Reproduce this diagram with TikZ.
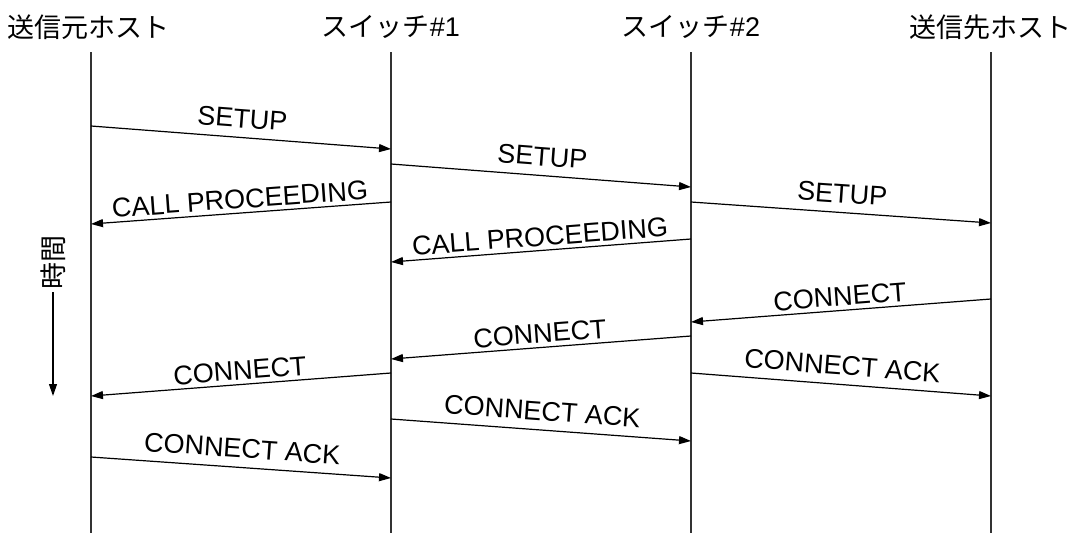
\documentclass[tikz,border=0pt]{standalone}
\usepackage{fontspec}
\setmainfont{Liberation Sans}
\newfontfamily\jp{Noto Sans CJK JP}
\usetikzlibrary{arrows.meta}
\begin{document}
\begin{tikzpicture}[x=1pt,y=-1pt,
  life/.style={draw=black!80, line width=1.6pt},
  msg/.style={draw=black, line width=1.2pt, -{Triangle[length=12pt,width=8pt]}},
  hdr/.style={font=\fontsize{27}{31}\selectfont, inner sep=0pt},
  lbl/.style={font=\fontsize{27}{31}\selectfont, sloped, midway, anchor=south, inner xsep=0pt, text depth=0pt},
  lblr/.style={lbl, inner ysep=9pt},
  lbll/.style={lbl, inner ysep=4pt}]
\useasboundingbox (0,0) rectangle (1071,533);

% headers
\node[hdr] (h1) at (89,27) {\jp 送信元ホスト};
\node[hdr] (h2) at (391,27) {{\jp スイッチ}\#1};
\node[hdr] (h3) at (691,27) {{\jp スイッチ}\#2};
\node[hdr] (h4) at (990,27) {\jp 送信先ホスト};

% lifelines
\foreach \i/\x in {1/91,2/391,3/691,4/991}{
  \coordinate (t\i) at (\x,52);
  \coordinate (b\i) at (\x,533);
  \draw[life] (t\i) -- (b\i);
}

% message endpoints
\coordinate (m1s) at (91,126);  \coordinate (m1e) at (391,149);
\coordinate (m2s) at (391,164); \coordinate (m2e) at (691,187);
\coordinate (m3s) at (391,202); \coordinate (m3e) at (91,224);
\coordinate (m4s) at (691,202); \coordinate (m4e) at (991,223);
\coordinate (m5s) at (691,239); \coordinate (m5e) at (391,262);
\coordinate (m6s) at (991,299); \coordinate (m6e) at (691,322);
\coordinate (m7s) at (691,336); \coordinate (m7e) at (391,359);
\coordinate (m8s) at (391,373); \coordinate (m8e) at (91,396);
\coordinate (m9s) at (691,373); \coordinate (m9e) at (991,396);
\coordinate (m10s) at (391,419); \coordinate (m10e) at (691,441);
\coordinate (m11s) at (91,457); \coordinate (m11e) at (391,478);

\draw[msg] (m1s) -- node[lblr] {SETUP} (m1e);
\draw[msg] (m2s) -- node[lblr] {SETUP} (m2e);
\draw[msg] (m3s) -- node[lbll] {CALL PROCEEDING} (m3e);
\draw[msg] (m4s) -- node[lblr] {SETUP} (m4e);
\draw[msg] (m5s) -- node[lbll] {CALL PROCEEDING} (m5e);
\draw[msg] (m6s) -- node[lbll] {CONNECT} (m6e);
\draw[msg] (m7s) -- node[lbll] {CONNECT} (m7e);
\draw[msg] (m8s) -- node[lbll] {CONNECT} (m8e);
\draw[msg] (m9s) -- node[lblr] {CONNECT ACK} (m9e);
\draw[msg] (m10s) -- node[lblr] {CONNECT ACK} (m10e);
\draw[msg] (m11s) -- node[lblr] {CONNECT ACK} (m11e);

% time axis
\node[hdr, rotate=90] (time) at (53,262) {\jp 時間};
\coordinate (ts) at (53,292);
\coordinate (te) at (53,396);
\draw[msg] (ts) -- (te);
\end{tikzpicture}
\end{document}
